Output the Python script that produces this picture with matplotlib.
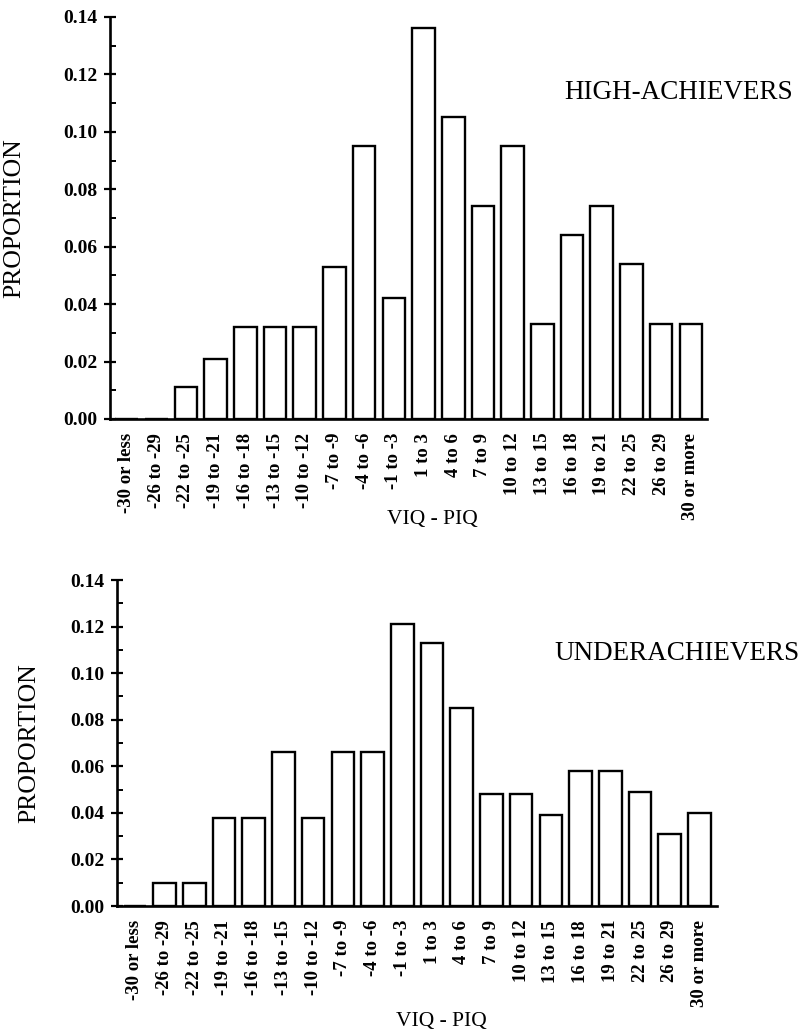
import numpy as np
import matplotlib.pyplot as plt

# VIQ - PIQ difference bins
bins = ["-30 or less", "-26 to -29", "-22 to -25", "-19 to -21", "-16 to -18",
        "-13 to -15", "-10 to -12", "-7 to -9", "-4 to -6", "-1 to -3",
        "1 to 3", "4 to 6", "7 to 9", "10 to 12", "13 to 15",
        "16 to 18", "19 to 21", "22 to 25", "26 to 29", "30 or more"]

high_achievers = [0.0, 0.0, 0.011, 0.021, 0.032, 0.032, 0.032, 0.053, 0.095, 0.042,
                  0.136, 0.105, 0.074, 0.095, 0.033, 0.064, 0.074, 0.054, 0.033, 0.033]

underachievers = [0.0, 0.010, 0.010, 0.038, 0.038, 0.066, 0.038, 0.066, 0.066, 0.121,
                  0.113, 0.085, 0.048, 0.048, 0.039, 0.058, 0.058, 0.049, 0.031, 0.040]

y_ticks = [0.00, 0.02, 0.04, 0.06, 0.08, 0.10, 0.12, 0.14]

plt.rcParams["font.family"] = ["Liberation Serif", "DejaVu Serif"]

fig = plt.figure(figsize=(7.98, 10.35), dpi=100)


def draw_panel(rect, values, group, group_xy, xlim, ylabel_x, xlabel_y):
    ax = fig.add_axes(rect)
    x = np.arange(len(bins))
    ax.bar(x, values, width=0.76, color="white", edgecolor="black", linewidth=1.7)
    ax.set_xlim(*xlim)
    ax.set_ylim(0, 0.14)
    ax.set_yticks(y_ticks)
    ax.set_yticklabels([f"{t:.2f}" for t in y_ticks], fontsize=14, fontweight="bold")
    ax.set_yticks(np.arange(0.01, 0.14, 0.02), minor=True)
    ax.tick_params(axis="y", which="major", direction="inout", length=8, width=1.6, pad=5)
    ax.tick_params(axis="y", which="minor", direction="in", length=4, width=1.4)
    ax.set_xticks(x)
    ax.set_xticklabels(bins, rotation=90, fontsize=13.5, fontweight="bold")
    ax.tick_params(axis="x", length=0, pad=10)
    for side in ["top", "right"]:
        ax.spines[side].set_visible(False)
    for side in ["left", "bottom"]:
        ax.spines[side].set_linewidth(1.9)
    ax.set_ylabel("PROPORTION", fontsize=18.5)
    ax.yaxis.set_label_coords(ylabel_x, 0.5)
    ax.set_xlabel("VIQ - PIQ", fontsize=15.5)
    ax.xaxis.set_label_coords(0.54, xlabel_y)
    ax.xaxis.label.set_va("center")
    fig.text(group_xy[0], group_xy[1], group, fontsize=19.5, ha="center", va="center")
    return ax


draw_panel([0.1378, 0.5952, 0.748, 0.3884], high_achievers, "HIGH-ACHIEVERS",
           (0.85, 0.911), (-0.56, 19.54), -0.142, -0.251)
draw_panel([0.1466, 0.1246, 0.7519, 0.315], underachievers, "UNDERACHIEVERS",
           (0.848, 0.369), (-0.6, 19.59), -0.128, -0.353)

fig.savefig("out.png", dpi=100)
